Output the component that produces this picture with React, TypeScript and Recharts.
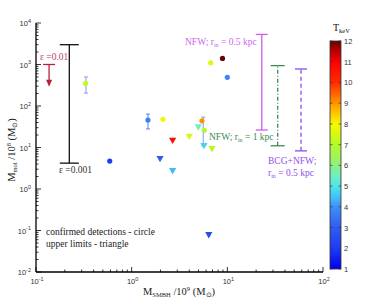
import React from 'react';
import { ScatterChart, Scatter, XAxis, YAxis, ReferenceLine } from 'recharts';

// confirmed detections (circles)
const circleMbh = [0.33, 1.48, 2.12, 5.43, 5.74, 0.59, 6.7, 8.9, 10.0];
const circleMol = [350, 46, 48, 44, 26, 4.7, 1100, 1400, 490];
const circleT = [7.2, 3.7, 7.9, 9.0, 7.0, 2.0, 7.6, 12.0, 3.8];

// upper limits (triangles)
const limitMbh = [2.68, 4.0, 4.97, 5.7, 6.9, 1.98, 2.68, 6.4];
const limitMol = [14.6, 18.2, 30.7, 10.9, 9.2, 5.3, 2.7, 0.078];
const limitT = [10.7, 7.5, 5.5, 4.7, 7.0, 3.0, 4.4, 2.5];

// error bars
const errMbh = [0.333, 1.48, 5.6];
const errLow = [205, 28, 11];
const errHigh = [500, 64, 54];
const errColor = ['#8c96ee', '#5a80f0', '#7c9cff'];

// model ranges: eps=0.001, NFW 0.5 kpc, NFW 1 kpc, BCG+NFW
const rangeMbh = [0.223, 22.9, 33.6, 58.9];
const rangeLow = [4.2, 26.4, 11.0, 8.3];
const rangeHigh = [3000, 5300, 940, 780];
const rangeColor = ['#111111', '#cc5cee', '#3d8a52', '#8a4cee'];
const rangeDash = [undefined, undefined, '4 2 1 2', '4 3'];
const rangeCap = [9.5, 6, 7, 6];

// eps = 0.01 upper limit arrow
const arrowMbh = [0.137];
const arrowTop = [1000];
const arrowBottom = [290];

const xMajor = [0.1, 1, 10, 100];
const yMajor = [0.01, 0.1, 1, 10, 100, 1000, 10000];
const cbarTicks = [1, 2, 3, 4, 5, 6, 7, 8, 9, 10, 11, 12];

// colour map for T_keV
const cmap: [number, string][] = [
  [1, '#0000f0'], [2, '#1e3cf0'], [3, '#2e5cf0'], [4, '#4090f8'], [4.5, '#40c4f8'],
  [5, '#50e6e6'], [5.5, '#6ef0c0'], [6, '#90f080'], [7, '#b4fa28'], [8, '#f8f800'],
  [8.5, '#ffc800'], [9, '#ff9400'], [9.5, '#ff6000'], [10, '#ff2a00'], [11, '#ff0000'],
  [11.5, '#b80000'], [12, '#6a0000'],
];

const hex = (s: string) => [1, 3, 5].map(i => parseInt(s.slice(i, i + 2), 16));
const tColor = (t: number) => {
  for (let i = 0; i < cmap.length - 1; i++) {
    const [t0, c0] = cmap[i];
    const [t1, c1] = cmap[i + 1];
    if (t <= t1) {
      const f = Math.max(0, (t - t0) / (t1 - t0));
      const a = hex(c0), b = hex(c1);
      return `rgb(${a.map((v, k) => Math.round(v + (b[k] - v) * f)).join(',')})`;
    }
  }
  return cmap[cmap.length - 1][1];
};

const minors = (majors: number[]) => {
  const out: number[] = [];
  majors.forEach((m, i) => {
    out.push(m);
    if (i < majors.length - 1) for (let k = 2; k <= 9; k++) out.push(m * k);
  });
  return out;
};
const xTicks = minors(xMajor);
const yTicks = minors(yMajor);

const circles = circleMbh.map((x, i) => ({ x, y: circleMol[i], T: circleT[i] }));
const limits = limitMbh.map((x, i) => ({ x, y: limitMol[i], T: limitT[i] }));

const W = 371, H = 306;
const PLOT_L = 36, PLOT_R = 323;
const pxPerDecade = (PLOT_R - PLOT_L) / 3;
const capK = (px: number) => Math.pow(10, px / pxPerDecade);

const isMajor = (v: number) => Math.abs(Math.log10(v) - Math.round(Math.log10(v))) < 1e-6;
const SANS = 'Liberation Sans, Arial, sans-serif';
const SERIF = 'Liberation Serif, Times New Roman, serif';

const Pow = ({ x, y, v, anchor }: any) => (
  <text x={x} y={y} textAnchor={anchor} fontSize={7.5} fontFamily={SANS} fill="#333">
    10<tspan dy={-3.5} fontSize={5.5}>{String(Math.round(Math.log10(v)))}</tspan>
  </text>
);

const BottomTick = ({ x, y, payload }: any) => {
  const m = isMajor(payload.value);
  return (
    <g>
      <line x1={x} x2={x} y1={y} y2={y - (m ? 5 : 2.5)} stroke="#000" strokeWidth={0.8} />
      {m && <Pow x={x + 1} y={y + 12} v={payload.value} anchor="middle" />}
    </g>
  );
};
const TopTick = ({ x, y, payload }: any) => {
  const m = isMajor(payload.value);
  return <line x1={x} x2={x} y1={y} y2={y + (m ? 5 : 2.5)} stroke="#000" strokeWidth={0.8} />;
};
const LeftTick = ({ x, y, payload }: any) => {
  const m = isMajor(payload.value);
  return (
    <g>
      <line x1={x} x2={x + (m ? 5 : 2.5)} y1={y} y2={y} stroke="#000" strokeWidth={0.8} />
      {m && <Pow x={x - 5} y={y + 3} v={payload.value} anchor="end" />}
    </g>
  );
};
const RightTick = ({ x, y, payload }: any) => {
  const m = isMajor(payload.value);
  return <line x1={x} x2={x - (m ? 5 : 2.5)} y1={y} y2={y} stroke="#000" strokeWidth={0.8} />;
};

const CircleMark = ({ cx, cy, payload }: any) => <circle cx={cx} cy={cy} r={2.6} fill={tColor(payload.T)} />;
const TriMark = ({ cx, cy, payload }: any) => (
  <path d={`M${cx - 3.6},${cy - 3} L${cx + 3.6},${cy - 3} L${cx},${cy + 3.4} Z`} fill={tColor(payload.T)} />
);
const ArrowHead = ({ cx, cy }: any) => (
  <path d={`M${cx - 3},${cy - 7} L${cx + 3},${cy - 7} L${cx},${cy} Z`} fill="#b8203c" />
);

const axisLine = { stroke: '#000', strokeWidth: 1.3 };
const FS = 9.5;

const Overlay = () => {
  const cbTop = 41, cbBot = 269, cbX = 330, cbW = 11;
  const ty = (t: number) => cbBot - ((t - 1) / 11) * (cbBot - cbTop);
  return (
    <svg width={W} height={H} style={{ position: 'absolute', left: 0, top: 0, pointerEvents: 'none' }}>
      <defs>
        <linearGradient id="cbar" x1="0" y1="1" x2="0" y2="0">
          {cmap.map(([t, c]) => <stop key={t} offset={(t - 1) / 11} stopColor={c} />)}
        </linearGradient>
      </defs>
      <rect x={cbX} y={cbTop} width={cbW} height={cbBot - cbTop} fill="url(#cbar)" stroke="#333" strokeWidth={0.8} />
      {cbarTicks.map(t => (
        <g key={t}>
          <line x1={cbX + cbW - 2.5} x2={cbX + cbW} y1={ty(t)} y2={ty(t)} stroke="#333" strokeWidth={0.7} />
          <line x1={cbX} x2={cbX + 2.5} y1={ty(t)} y2={ty(t)} stroke="#333" strokeWidth={0.7} />
          <text x={cbX + cbW + 3} y={ty(t) + 3} fontSize={7.5} fontFamily={SANS} fill="#333">{t}</text>
        </g>
      ))}
      <text x={333} y={31} fontSize={10} fontFamily={SERIF} fill="#111">
        T<tspan dy={2} fontSize={6.5}>keV</tspan>
      </text>

      <text x={40} y={60} fontSize={FS} fontFamily={SERIF} fill="#c04464">ε =0.01</text>
      <text x={59} y={173} fontSize={FS} fontFamily={SERIF} fill="#333">ε =0.001</text>
      <text x={185} y={45} fontSize={FS} fontFamily={SERIF} fill="#cc66ee">
        NFW; r<tspan dy={1.5} fontSize={6}>in</tspan><tspan dy={-1.5}> = 0.5 kpc</tspan>
      </text>
      <text x={209} y={140} fontSize={FS} fontFamily={SERIF} fill="#3d8a52">
        NFW; r<tspan dy={1.5} fontSize={6}>in</tspan><tspan dy={-1.5}> = 1 kpc</tspan>
      </text>
      <text x={268} y={164} fontSize={FS} fontFamily={SERIF} fill="#9050ee">BCG+NFW;</text>
      <text x={268} y={176} fontSize={FS} fontFamily={SERIF} fill="#9050ee">
        r<tspan dy={1.5} fontSize={6}>in</tspan><tspan dy={-1.5}> = 0.5 kpc</tspan>
      </text>

      <text x={46} y={235} fontSize={FS} fontFamily={SERIF} fill="#222">confirmed detections - circle</text>
      <text x={46} y={247} fontSize={FS} fontFamily={SERIF} fill="#222">upper limits - triangle</text>

      <text x={179} y={295} textAnchor="middle" fontSize={10.5} fontFamily={SERIF} fill="#222">
        M<tspan dy={2} fontSize={6.5}>SMBH</tspan><tspan dy={-2}> /10</tspan><tspan dy={-4} fontSize={6.5}>9</tspan>
        <tspan dy={4}> (M</tspan><tspan dy={2} fontSize={6.5}>⊙</tspan><tspan dy={-2}>)</tspan>
      </text>
      <text x={15} y={150} textAnchor="middle" transform="rotate(-90 15 150)" fontSize={10.5} fontFamily={SERIF} fill="#222">
        M<tspan dy={2} fontSize={6.5}>mol</tspan><tspan dy={-2}> /10</tspan><tspan dy={-4} fontSize={6.5}>8</tspan>
        <tspan dy={4}> (M</tspan><tspan dy={2} fontSize={6.5}>⊙</tspan><tspan dy={-2}>)</tspan>
      </text>
    </svg>
  );
};

export default function App() {
  return (
    <div style={{ position: 'absolute', left: 0, top: 0, width: W, height: H, background: '#fff' }}>
      <ScatterChart width={W} height={H} margin={{ top: 23, right: 48, bottom: 14, left: 6 }}>
        <XAxis xAxisId="b" type="number" dataKey="x" scale="log" domain={[0.1, 100]} allowDataOverflow
          ticks={xTicks} interval={0} tick={<BottomTick />} tickLine={false} tickSize={0} tickMargin={0}
          height={20} axisLine={axisLine} />
        <XAxis xAxisId="t" orientation="top" type="number" dataKey="x" scale="log" domain={[0.1, 100]} allowDataOverflow
          ticks={xTicks} interval={0} tick={<TopTick />} tickLine={false} tickSize={0} tickMargin={0}
          height={0} axisLine={axisLine} />
        <YAxis yAxisId="l" type="number" dataKey="y" scale="log" domain={[0.01, 10000]} allowDataOverflow
          ticks={yTicks} interval={0} tick={<LeftTick />} tickLine={false} tickSize={0} tickMargin={0}
          width={30} axisLine={axisLine} />
        <YAxis yAxisId="r" orientation="right" type="number" dataKey="y" scale="log" domain={[0.01, 10000]} allowDataOverflow
          ticks={yTicks} interval={0} tick={<RightTick />} tickLine={false} tickSize={0} tickMargin={0}
          width={0} axisLine={axisLine} />

        <Scatter xAxisId="t" yAxisId="r" data={[{ x: 1, y: 1 }]} fill="none" shape={() => <g />} isAnimationActive={false} />

        {rangeMbh.map((x, i) => (
          <ReferenceLine key={'rv' + i} xAxisId="b" yAxisId="l" stroke={rangeColor[i]} strokeWidth={1.3}
            strokeDasharray={rangeDash[i]}
            segment={[{ x, y: rangeLow[i] }, { x, y: rangeHigh[i] }]} />
        ))}
        {rangeMbh.map((x, i) => [rangeLow[i], rangeHigh[i]].map((yv, j) => (
          <ReferenceLine key={`rc${i}-${j}`} xAxisId="b" yAxisId="l" stroke={rangeColor[i]} strokeWidth={1.3}
            segment={[{ x: x / capK(rangeCap[i]), y: yv }, { x: x * capK(rangeCap[i]), y: yv }]} />
        )))}

        {arrowMbh.map((x, i) => (
          <ReferenceLine key={'av' + i} xAxisId="b" yAxisId="l" stroke="#b8203c" strokeWidth={1.3}
            segment={[{ x, y: arrowBottom[i] * 1.15 }, { x, y: arrowTop[i] }]} />
        ))}
        {arrowMbh.map((x, i) => (
          <ReferenceLine key={'ac' + i} xAxisId="b" yAxisId="l" stroke="#b8203c" strokeWidth={1.3}
            segment={[{ x: x / capK(6), y: arrowTop[i] }, { x: x * capK(6), y: arrowTop[i] }]} />
        ))}
        <Scatter xAxisId="b" yAxisId="l" data={arrowMbh.map((x, i) => ({ x, y: arrowBottom[i] }))}
          shape={<ArrowHead />} isAnimationActive={false} />

        {errMbh.map((x, i) => (
          <ReferenceLine key={'ev' + i} xAxisId="b" yAxisId="l" stroke={errColor[i]} strokeWidth={1}
            segment={[{ x, y: errLow[i] }, { x, y: errHigh[i] }]} />
        ))}
        {errMbh.map((x, i) => [errLow[i], errHigh[i]].map((yv, j) => (
          <ReferenceLine key={`ec${i}-${j}`} xAxisId="b" yAxisId="l" stroke={errColor[i]} strokeWidth={1}
            segment={[{ x: x / capK(2), y: yv }, { x: x * capK(2), y: yv }]} />
        )))}

        <Scatter xAxisId="b" yAxisId="l" data={limits} shape={<TriMark />} isAnimationActive={false} />
        <Scatter xAxisId="b" yAxisId="l" data={circles} shape={<CircleMark />} isAnimationActive={false} />
      </ScatterChart>
      <Overlay />
    </div>
  );
}
